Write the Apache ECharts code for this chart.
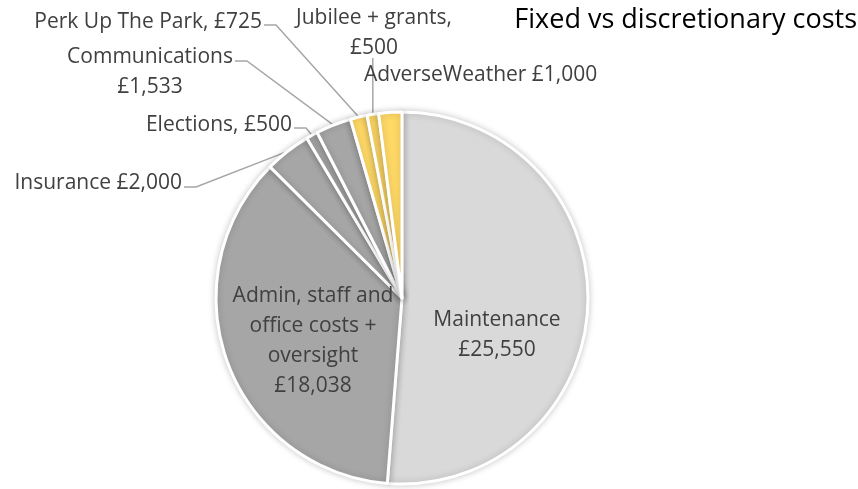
<!DOCTYPE html>
<html><head><meta charset="utf-8">
<script src="https://cdn.jsdelivr.net/npm/echarts@6/dist/echarts.min.js"></script>
<style>html,body{margin:0;padding:0;background:#fff}#c{width:858px;height:489px}</style>
</head><body><div id="c"></div>
<script>
const categories = ['Maintenance','Admin, staff and office costs + oversight','Insurance','Elections','Communications','Perk Up The Park','Jubilee + grants','AdverseWeather'];
const values = [25550, 18038, 2000, 500, 1533, 725, 500, 1000];
const labelTexts = [
  'Maintenance\n£25,550',
  'Admin, staff and\noffice costs +\noversight\n£18,038',
  'Insurance £2,000',
  'Elections, £500',
  'Communications\n£1,533',
  'Perk Up The Park, £725',
  'Jubilee + grants,\n£500',
  'AdverseWeather £1,000'
];
const colors = ['#D9D9D9','#A6A6A6','#A6A6A6','#A6A6A6','#A6A6A6','#FFD966','#FFD966','#FFD966'];
// label anchor placement (layout only); line: 'side' = elbow from label end, 'down' = vertical from below label
const labelPos = [
  {x:497,y:335,align:'center'},
  {x:313,y:341,align:'center'},
  {x:182,y:183,align:'right',line:'side',ly:4},
  {x:292,y:125,align:'right',line:'side',ly:3},
  {x:150,y:72,align:'center',line:'side',ly:-11},
  {x:262,y:22,align:'right',line:'side',ly:3},
  {x:374,y:33,align:'center',line:'down',ly:25},
  {x:364,y:75,align:'left'}
];
const FONT = 'Open Sans';
const chart = echarts.init(document.getElementById('c'));
chart.setOption({
  animation:false,
  title:{text:'Fixed vs discretionary costs', right:1, top:7, padding:0,
    textStyle:{fontFamily:FONT,fontSize:27,fontWeight:'normal',color:'#000'}},
  series:[{
    type:'pie', center:[402,298], radius:[0,186], startAngle:90, clockwise:true,
    avoidLabelOverlap:false,
    itemStyle:{borderColor:'#fff',borderWidth:3,shadowBlur:7,shadowColor:'rgba(0,0,0,0.2)'},
    label:{fontFamily:FONT,fontSize:21,color:'#404040',lineHeight:30},
    labelLine:{lineStyle:{color:'#A6A6A6',width:1.5},length:10,length2:10},
    data: categories.map((c,i)=>({
      name:c, value:values[i],
      itemStyle:{color:colors[i]},
      label:{position: i<2?'inside':'outside', formatter:labelTexts[i], align:labelPos[i].align, color: '#404040'},
      labelLine:{show: i>=2 && i!==7}
    })),
    labelLayout:function(p){
      const lp = labelPos[p.dataIndex];
      const out = {x:lp.x, y:lp.y, align:lp.align, verticalAlign:'middle'};
      if (lp.line && p.labelLinePoints) {
        const s = p.labelLinePoints[0];
        const w = p.labelRect.width;
        if (lp.line === 'side') {
          const right = lp.align === 'right' ? lp.x : lp.x + w/2;
          const ly = lp.y + lp.ly;
          out.labelLinePoints = [[s[0], s[1]], [right + 14, ly], [right + 2, ly]];
        } else {
          out.labelLinePoints = [[s[0], s[1]], [s[0], lp.y + lp.ly]];
        }
      }
      return out;
    }
  }]
});
</script></body></html>
